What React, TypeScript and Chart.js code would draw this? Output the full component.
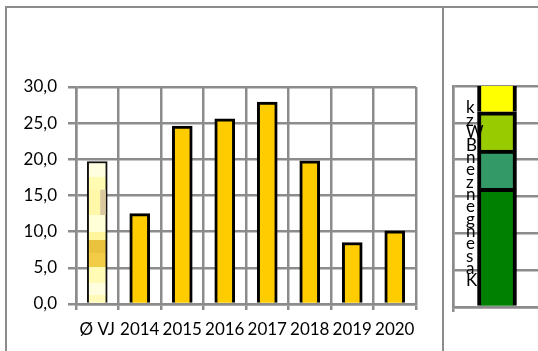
import React, { useEffect, useRef } from 'react';
import { Chart, registerables } from 'chart.js';

Chart.register(...registerables);

// ---- data ----
const categories = ['Ø VJ', '2014', '2015', '2016', '2017', '2018', '2019', '2020'];
const values = [19.7, 12.5, 24.6, 25.6, 27.9, 19.8, 8.5, 10.1];
const yMin = 0;
const yMax = 30;
const yStep = 5;

const stackCategory = [''];
const stackNames = ['Kassen', 'engnez', 'zenBW', 'zk'];
const stackValues = [16.1, 5.2, 5.2, 6.0];
const stackColors = ['#008000', '#339966', '#99CC00', '#FFFF00'];
const sideLetters = ['k', 'z', 'W', 'B', 'n', 'e', 'z', 'n', 'e', 'g', 'n', 'e', 's', 'a', 'K'];

const GRID = '#8c8c8c';
const FONT = { family: 'Lato, "Open Sans", sans-serif', size: 17 };

// pale textured fill of the average bar, expressed as value bands
const avgBands: [number, number, string][] = [
  [0, 1.2, '#FFFAB8'],
  [1.2, 2.9, '#FFFFE0'],
  [2.9, 5.1, '#FFFBB4'],
  [5.1, 7.0, '#F2CC46'],
  [7.0, 8.9, '#EAC23E'],
  [8.9, 10.0, '#FFF59C'],
  [10.0, 12.3, '#FFFFD8'],
  [12.3, 15.8, '#FFF8A8'],
  [15.8, 17.6, '#FFFBB0'],
  [17.6, 30, '#FFFFE0'],
];

const tanPatch = {
  id: 'tanPatch',
  afterDatasetsDraw(chart: any) {
    const meta = chart.getDatasetMeta(0);
    const bar = meta.data[0];
    if (!bar) return;
    const y = chart.scales.y;
    const ctx = chart.ctx;
    const left = bar.x + bar.width * 0.15;
    const right = bar.x + bar.width / 2 - 1.5;
    const top = y.getPixelForValue(15.8);
    const bottom = y.getPixelForValue(12.3);
    ctx.save();
    ctx.fillStyle = '#D9C8A0';
    ctx.fillRect(left, top, right - left, bottom - top);
    ctx.restore();
  },
};

const letters = {
  id: 'letters',
  afterDraw(chart: any) {
    const ctx = chart.ctx;
    ctx.save();
    ctx.font = '17px Lato, "Open Sans", sans-serif';
    ctx.fillStyle = '#000';
    ctx.textAlign = 'left';
    ctx.textBaseline = 'middle';
    const y0 = 108;
    const y1 = 281;
    const step = (y1 - y0) / (sideLetters.length - 1);
    sideLetters.forEach((l, i) => ctx.fillText(l, 22, y0 + step * i));
    ctx.restore();
  },
};

export default function App() {
  const leftRef = useRef<HTMLCanvasElement>(null);
  const rightRef = useRef<HTMLCanvasElement>(null);

  useEffect(() => {
    const left = new Chart(leftRef.current as HTMLCanvasElement, {
      type: 'bar',
      data: {
        labels: categories,
        datasets: [
          {
            data: values,
            barThickness: 20,
            borderSkipped: 'start',
            borderWidth: (c: any) => (c.dataIndex === 0 ? 2 : 3),
            borderColor: (c: any) => (c.dataIndex === 0 ? '#111' : '#000'),
            backgroundColor: (c: any) => {
              if (c.dataIndex !== 0) return '#FFCC00';
              const chart = c.chart;
              if (!chart.chartArea || !chart.scales.y) return '#FFFFCC';
              const y = chart.scales.y;
              const p0 = y.getPixelForValue(0);
              const p1 = y.getPixelForValue(30);
              const g = chart.ctx.createLinearGradient(0, p0, 0, p1);
              avgBands.forEach(([a, b, col]) => {
                g.addColorStop(a / 30, col);
                g.addColorStop(Math.min(1, b / 30 - 0.0001), col);
              });
              return g;
            },
          } as any,
        ],
      },
      options: {
        responsive: false,
        animation: false,
        devicePixelRatio: 1,
        layout: { padding: { top: 87, right: 27, left: 0, bottom: 0 } },
        plugins: { legend: { display: false }, tooltip: { enabled: false } },
        scales: {
          x: {
            grid: { color: GRID, lineWidth: 2.5, tickLength: 6, offset: true },
            border: { color: GRID, width: 2.5 },
            ticks: { font: FONT, color: '#000', padding: 9, autoSkip: false, maxRotation: 0 },
            afterFit: (s: any) => {
              s.height = 47;
            },
          },
          y: {
            min: yMin,
            max: yMax,
            grid: { color: GRID, lineWidth: 2.5, tickLength: 8 },
            border: { color: GRID, width: 2.5 },
            ticks: {
              stepSize: yStep,
              font: FONT,
              color: '#000',
              padding: 11,
              callback: (v: any) => Number(v).toFixed(1).replace('.', ','),
            },
            afterFit: (s: any) => {
              s.width = 76;
            },
          },
        },
      } as any,
      plugins: [tanPatch],
    });

    const right = new Chart(rightRef.current as HTMLCanvasElement, {
      type: 'bar',
      data: {
        labels: stackCategory,
        datasets: stackValues.map((v, i) => ({
          label: stackNames[i],
          data: [v],
          backgroundColor: stackColors[i],
          borderColor: '#000',
          borderWidth: 4,
          borderSkipped: 'start',
          barThickness: 39,
          clip: 0,
        })) as any,
      },
      options: {
        responsive: false,
        animation: false,
        devicePixelRatio: 1,
        layout: { padding: { top: 86, right: 13, left: 0, bottom: 0 } },
        plugins: { legend: { display: false }, tooltip: { enabled: false } },
        scales: {
          x: {
            stacked: true,
            grid: { color: GRID, lineWidth: 2.5, tickLength: 5, offset: true },
            border: { color: GRID, width: 2.5 },
            ticks: { display: false },
            afterFit: (s: any) => {
              s.height = 44;
            },
          },
          y: {
            stacked: true,
            min: yMin,
            max: yMax,
            grid: { color: GRID, lineWidth: 2.5, drawTicks: false },
            border: { color: GRID, width: 2.5 },
            ticks: { display: false, stepSize: yStep },
            afterFit: (s: any) => {
              s.width = 9;
            },
          },
        },
      } as any,
      plugins: [letters],
    });

    return () => {
      left.destroy();
      right.destroy();
    };
  }, []);

  return (
    <div
      style={{
        position: 'absolute',
        left: 0,
        top: 0,
        width: 538,
        height: 351,
        overflow: 'hidden',
        background: '#fff',
      }}
    >
      <canvas
        ref={leftRef}
        width={443}
        height={351}
        style={{ position: 'absolute', left: 0, top: 0, width: 443, height: 351 }}
      />
      <div style={{ position: 'absolute', left: 444, top: 0, width: 94, height: 351, overflow: 'hidden' }}>
        <canvas
          ref={rightRef}
          width={110}
          height={351}
          style={{ position: 'absolute', left: 0, top: 0, width: 110, height: 351 }}
        />
      </div>
      <div style={{ position: 'absolute', left: 5, top: 6, width: 533, height: 2, background: GRID }} />
      <div style={{ position: 'absolute', left: 5, top: 6, width: 2, height: 345, background: GRID }} />
      <div style={{ position: 'absolute', left: 442, top: 6, width: 2, height: 345, background: GRID }} />
    </div>
  );
}
